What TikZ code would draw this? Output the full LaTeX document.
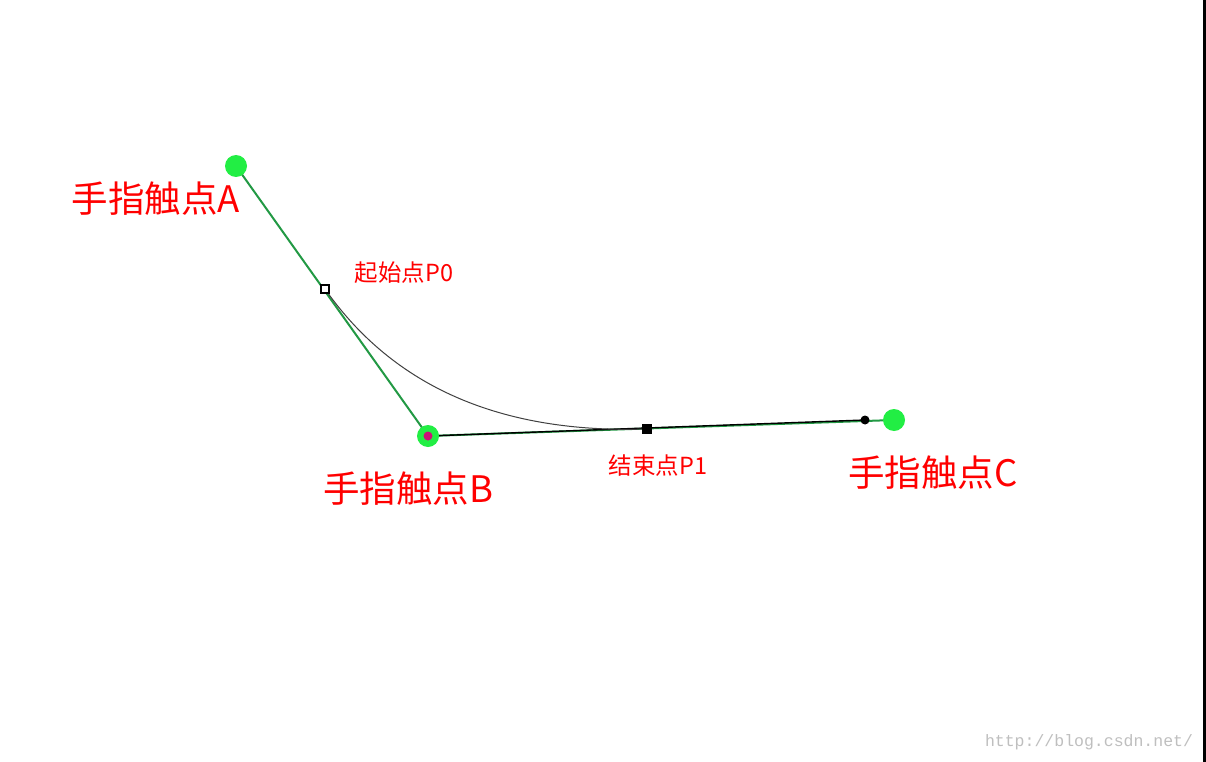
\documentclass[tikz,border=0pt]{standalone}
\usepackage{fontspec}
\setmainfont{Noto Sans CJK SC}
\newfontfamily\monowm{Liberation Mono}
\definecolor{touchgreen}{HTML}{22EE44}
\definecolor{linegreen}{HTML}{229944}
\definecolor{labelred}{HTML}{FF0000}
\definecolor{magdot}{HTML}{CC1177}
\begin{document}
\begin{tikzpicture}[x=1pt,y=-1pt,
  touch/.style={circle,fill=touchgreen,inner sep=0pt,minimum size=22pt},
  biglabel/.style={text=labelred,font=\fontsize{36.5}{40}\selectfont,inner sep=0pt},
  smalllabel/.style={text=labelred,font=\fontsize{23.5}{26}\selectfont,inner sep=0pt},
  guide/.style={linegreen,line width=2pt},
  pathline/.style={black,line width=1.4pt}]
\useasboundingbox (0,0) rectangle (1206,762);
\fill[white] (0,0) rectangle (1206,762);
\fill[black] (1203,0) rectangle (1206,762);
% control points
\coordinate (A) at (236,166);
\coordinate (B) at (428,436);
\coordinate (C) at (894,420);
\coordinate (P0) at (325,289);
\coordinate (P1) at (647,429);
\coordinate (D) at (865,420);
% guide lines
\draw[guide] (A) -- (B) -- (C);
\draw[pathline] (B) -- (D);
\draw[black!75,line width=1pt] (P0) .. controls (393.7,387) and (501,433.7) .. (P1);
% touch dots
\node[touch] (nA) at (A) {};
\node[touch] (nB) at (B) {};
\node[touch] (nC) at (C) {};
\node[circle,fill=magdot,inner sep=0pt,minimum size=9pt] (nBc) at (B) {};
\node[draw=black,fill=white,line width=1.5pt,inner sep=0pt,minimum size=8pt] (nP0) at (P0) {};
\node[fill=black,inner sep=0pt,minimum size=10pt] (nP1) at (P1) {};
\node[circle,fill=black,inner sep=0pt,minimum size=9pt] (nD) at (D) {};
% labels
\node[biglabel] (lA) at (156,199) {手指触点A};
\node[biglabel] (lB) at (408,489) {手指触点B};
\node[biglabel] (lC) at (933,473) {手指触点C};
\node[smalllabel] (l0) at (404,273) {起始点P0};
\node[smalllabel] (l1) at (658,466) {结束点P1};
\node[text=black!25,font=\monowm\fontsize{16.5}{18}\selectfont,inner sep=0pt] (wm) at (1089,742) {http://blog.csdn.net/};
\end{tikzpicture}
\end{document}
